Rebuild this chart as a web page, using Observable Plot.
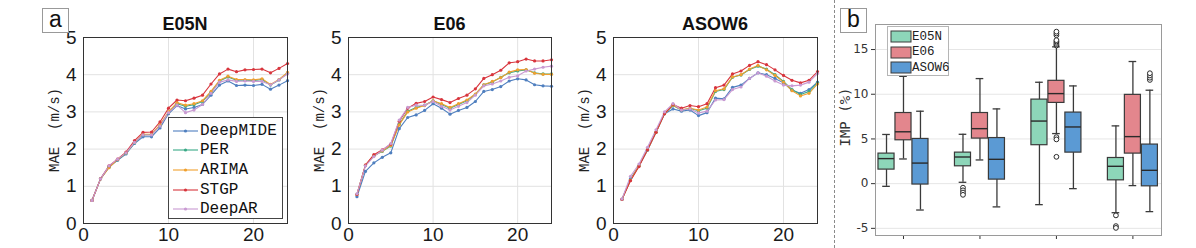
<!DOCTYPE html>
<html>
<head>
<meta charset="utf-8">
<script src="https://cdn.jsdelivr.net/npm/d3@7"></script>
<script src="https://cdn.jsdelivr.net/npm/@observablehq/plot@0.6"></script>
<style>
  html, body { margin: 0; padding: 0; background: #fff; }
  #root { position: relative; width: 1196px; height: 248px; overflow: hidden; background: #fff; }
  #root > * { position: absolute; }
  .ylab { width: 160px; height: 20px; line-height: 20px; text-align: center; transform: rotate(-90deg); white-space: pre; color: #222; }
  .title { text-align: center; font: bold 18px "Liberation Sans", Arial, sans-serif; color: #111; }
  .panel { border: 1px solid #999; background: #fff; text-align: center; font: 23px "Liberation Sans", Arial, sans-serif; color: #111; box-sizing: border-box; }
  .lrow { display: flex; align-items: center; white-space: pre; }
</style>
</head>
<body>
<div id="root"></div>
<script>
// ---------- data ----------
const steps = d3.range(1, 25);
const models = ["DeepMIDE", "PER", "ARIMA", "STGP", "DeepAR"];
const modelColors = ["#4f7fbf", "#3aa987", "#f0a02f", "#d8353d", "#c99ad2"];
const stations = ["E05N", "E06", "ASOW6"];

// MAE (m/s), forecast steps 1..24
const e05n_DeepMIDE = [0.62,1.2,1.53,1.7,1.87,2.15,2.33,2.33,2.57,2.95,3.17,3.08,3.12,3.2,3.45,3.72,3.83,3.71,3.72,3.71,3.74,3.61,3.72,3.84];
const e05n_PER      = [0.62,1.2,1.51,1.71,1.89,2.17,2.38,2.39,2.63,2.98,3.22,3.15,3.19,3.28,3.53,3.83,3.94,3.85,3.85,3.84,3.87,3.72,3.86,4.04];
const e05n_ARIMA    = [0.62,1.2,1.5,1.72,1.9,2.18,2.4,2.4,2.65,3.0,3.25,3.18,3.22,3.3,3.55,3.85,3.96,3.87,3.87,3.86,3.89,3.74,3.87,4.06];
const e05n_STGP     = [0.62,1.2,1.55,1.73,1.92,2.23,2.45,2.46,2.73,3.1,3.32,3.3,3.37,3.45,3.75,4.02,4.15,4.08,4.13,4.14,4.15,4.05,4.17,4.3];
const e05n_DeepAR   = [0.62,1.2,1.55,1.73,1.9,2.18,2.38,2.38,2.62,2.98,3.18,2.98,3.05,3.2,3.5,3.8,3.86,3.82,3.83,3.82,3.82,3.73,3.86,4.02];

const e06_DeepMIDE = [0.72,1.4,1.63,1.78,1.9,2.55,2.85,2.92,3.04,3.22,3.1,2.94,3.04,3.12,3.28,3.55,3.6,3.68,3.83,3.89,3.86,3.73,3.7,3.69];
const e06_PER      = [0.78,1.56,1.82,1.94,2.08,2.67,3.02,3.12,3.18,3.3,3.2,3.1,3.2,3.3,3.47,3.73,3.8,3.93,4.05,4.1,4.13,4.05,4.02,4.02];
const e06_ARIMA    = [0.78,1.57,1.83,1.95,2.1,2.65,3.0,3.1,3.17,3.3,3.22,3.12,3.22,3.32,3.48,3.73,3.82,3.92,4.07,4.13,4.14,4.04,4.01,4.01];
const e06_STGP     = [0.78,1.57,1.85,1.98,2.13,2.75,3.1,3.23,3.28,3.4,3.33,3.25,3.36,3.45,3.62,3.9,4.0,4.12,4.32,4.35,4.42,4.37,4.37,4.4];
const e06_DeepAR   = [0.8,1.55,1.8,1.97,2.15,2.78,3.12,3.18,3.18,3.28,3.15,3.05,3.15,3.25,3.45,3.7,3.75,3.83,3.93,3.97,4.1,4.15,4.2,4.23];

const asow6_DeepMIDE = [0.65,1.2,1.55,1.97,2.45,2.95,3.08,3.02,3.05,2.9,2.98,3.37,3.35,3.66,3.72,3.9,4.05,4.0,3.9,3.78,3.58,3.5,3.6,3.8];
const asow6_PER      = [0.65,1.17,1.55,1.98,2.45,2.95,3.17,3.05,3.09,3.03,3.1,3.55,3.6,3.93,3.99,4.14,4.23,4.15,4.0,3.82,3.6,3.47,3.55,3.78];
const asow6_ARIMA    = [0.65,1.17,1.55,1.98,2.45,2.95,3.18,3.06,3.1,3.05,3.13,3.57,3.62,3.94,4.0,4.15,4.25,4.13,3.98,3.8,3.57,3.43,3.5,3.75];
const asow6_STGP     = [0.65,1.15,1.53,1.98,2.45,2.95,3.2,3.1,3.17,3.14,3.22,3.65,3.72,4.02,4.1,4.25,4.35,4.27,4.13,3.98,3.85,3.78,3.85,4.08];
const asow6_DeepAR   = [0.66,1.27,1.6,2.05,2.52,3.0,3.22,3.05,3.08,2.97,3.02,3.32,3.33,3.6,3.67,3.9,4.05,3.96,3.83,3.72,3.7,3.72,3.8,4.03];

const maeTicksX = [0, 10, 20];
const maeTicksY = [0, 1, 2, 3, 4, 5];

// IMP (%) box statistics per group: [whiskerLow, Q1, median, Q3, whiskerHigh]
const boxGroups = [1, 2, 3, 4];
const e05nStats  = [[-0.3,1.57,2.8,3.36,5.5], [0.15,1.94,2.98,3.47,5.52], [-2.35,4.3,7.0,9.4,11.34], [-3.25,0.37,1.94,2.87,6.46]];
const e06Stats   = [[2.76,4.85,5.8,7.9,12.0], [2.65,5.04,6.15,7.9,11.75], [5.6,9.03,10.07,11.5,15.3], [-0.22,3.36,5.26,9.93,13.66]];
const asow6Stats = [[-2.95,-0.1,2.3,5.0,8.1], [-2.6,0.45,2.72,5.1,8.36], [-0.56,3.47,6.34,7.95,10.93], [-3.13,-0.3,1.49,4.37,10.45]];
const e05nOutliers  = [[], [-0.45,-0.75,-1.0,-1.25], [], [-3.55,-4.75,-4.95]];
const e06Outliers   = [[], [], [15.45,15.6,15.75,15.9,16.05,16.6,16.8,17.0,5.2,4.95,3.0], []];
const asow6Outliers = [[], [], [], [11.6,11.85,12.1,12.35]];
const impTicks = [-5, 0, 5, 10, 15];
const boxColors = ["#8dd6b9", "#e3868d", "#5b9ad4"];

// ---------- helpers ----------
const root = document.getElementById("root");
function place(el, left, top) { el.style.left = left + "px"; el.style.top = top + "px"; root.appendChild(el); return el; }
function div(cls, html, css) { const d = document.createElement("div"); if (cls) d.className = cls; d.innerHTML = html; Object.assign(d.style, css || {}); return d; }

const series = {
  E05N: [e05n_DeepMIDE, e05n_PER, e05n_ARIMA, e05n_STGP, e05n_DeepAR],
  E06: [e06_DeepMIDE, e06_PER, e06_ARIMA, e06_STGP, e06_DeepAR],
  ASOW6: [asow6_DeepMIDE, asow6_PER, asow6_ARIMA, asow6_STGP, asow6_DeepAR]
};

function linePlot(station, svgLeft, frameLeft, frameRight) {
  const rows = [];
  series[station].forEach((arr, mi) => arr.forEach((v, i) => rows.push({step: steps[i], mae: v, model: models[mi]})));
  const width = frameRight - svgLeft + 14;
  const chart = Plot.plot({
    width, height: 248,
    marginLeft: frameLeft - svgLeft, marginRight: width - (frameRight - svgLeft), marginTop: 37, marginBottom: 25,
    style: {fontFamily: "'Liberation Sans', Arial, sans-serif", fontSize: "19px", color: "#1a1a1a", background: "transparent", overflow: "visible"},
    x: {domain: [0, 24], ticks: maeTicksX, tickFormat: d => String(d), tickSize: 0, tickPadding: 4, label: null},
    y: {domain: [0, 5], ticks: maeTicksY, tickFormat: d => String(d), tickSize: 0, tickPadding: 7, label: null},
    color: {domain: models, range: modelColors},
    marks: [
      Plot.ruleY(maeTicksY.slice(1, -1), {stroke: "#e2e2e2", strokeWidth: 1}),
      Plot.ruleX(maeTicksX.slice(1), {stroke: "#e2e2e2", strokeWidth: 1}),
      Plot.line(rows, {x: "step", y: "mae", z: "model", stroke: "model", strokeWidth: 1.1}),
      Plot.dot(rows, {x: "step", y: "mae", fill: "model", r: 1.6}),
      Plot.frame({stroke: "#333", strokeWidth: 1})
    ]
  });
  place(chart, svgLeft, 0);
  const cx = (frameLeft + frameRight) / 2;
  place(div("title", station, {width: "200px", lineHeight: "20px"}), cx - 100, 14);
  place(div("ylab", "MAE  (m/s)", {font: "14px 'Liberation Mono', 'Courier New', monospace"}), frameLeft - 26 - 80, 130 - 10);
}

linePlot("E05N", 0, 83, 287);
linePlot("E06", 300, 348, 551);
linePlot("ASOW6", 570, 613, 817);

// legend for line panels
const leg = div("", "", {width: "115px", height: "102px", border: "1px solid #444", background: "#fff", boxSizing: "border-box", paddingTop: "3px"});
models.forEach((m, i) => {
  const r = div("lrow", "", {height: "19.6px", font: "16px 'Liberation Mono', 'Courier New', monospace", color: "#111"});
  r.innerHTML = `<svg width="31" height="12" style="flex:none"><line x1="4" x2="29" y1="6" y2="6" stroke="${modelColors[i]}" stroke-width="1.1"/><circle cx="16.5" cy="6" r="1.6" fill="${modelColors[i]}"/></svg><span>${m}</span>`;
  leg.appendChild(r);
});
place(leg, 168, 117);

// panel labels and separator
place(div("panel", "a", {width: "27px", height: "25px", lineHeight: "21px"}), 42, 8);
place(div("panel", "b", {width: "27px", height: "25px", lineHeight: "21px"}), 840, 8);
place(div("", "", {width: "0px", height: "248px", borderLeft: "1px dashed #8a8a8a"}), 834, 0);

// ---------- box plot ----------
const offsets = [-0.222, 0, 0.222];
const halfW = 0.105, capW = 0.05;
const statsAll = [e05nStats, e06Stats, asow6Stats];
const outAll = [e05nOutliers, e06Outliers, asow6Outliers];
const boxes = [], outs = [];
boxGroups.forEach((g, gi) => stations.forEach((s, si) => {
  const [lo, q1, med, q3, hi] = statsAll[si][gi];
  boxes.push({station: s, x: g + offsets[si], lo, q1, med, q3, hi});
  outAll[si][gi].forEach(v => outs.push({station: s, x: g + offsets[si], v}));
}));

const boxChart = Plot.plot({
  width: 366, height: 248,
  marginLeft: 45, marginRight: 35, marginTop: 24, marginBottom: 13,
  style: {fontFamily: "'DejaVu Sans', sans-serif", fontSize: "12px", color: "#333", background: "transparent", overflow: "visible"},
  x: {domain: [0.634, 4.374], ticks: boxGroups, tickFormat: () => "", tickSize: 4, label: null},
  y: {domain: [-5.8, 17.8], ticks: impTicks, tickFormat: d => String(d), tickSize: 4, tickPadding: 3, label: null},
  color: {domain: stations, range: boxColors},
  marks: [
    Plot.ruleY(impTicks, {stroke: "#e6e6e6", strokeWidth: 1}),
    Plot.ruleX(boxes, {x: "x", y1: "lo", y2: "q1", stroke: "#3a3a3a", strokeWidth: 1.3}),
    Plot.ruleX(boxes, {x: "x", y1: "q3", y2: "hi", stroke: "#3a3a3a", strokeWidth: 1.3}),
    Plot.ruleY(boxes, {y: "lo", x1: d => d.x - capW, x2: d => d.x + capW, stroke: "#3a3a3a", strokeWidth: 1.3}),
    Plot.ruleY(boxes, {y: "hi", x1: d => d.x - capW, x2: d => d.x + capW, stroke: "#3a3a3a", strokeWidth: 1.3}),
    Plot.rect(boxes, {x1: d => d.x - halfW, x2: d => d.x + halfW, y1: "q1", y2: "q3", fill: "station", stroke: "#3a3a3a", strokeWidth: 1.2}),
    Plot.ruleY(boxes, {y: "med", x1: d => d.x - halfW, x2: d => d.x + halfW, stroke: "#2a2a2a", strokeWidth: 1.4}),
    Plot.dot(outs, {x: "x", y: "v", r: 2.4, fill: "#fff", stroke: "#2a2a2a", strokeWidth: 1}),
    Plot.frame({stroke: "#9a9a9a", strokeWidth: 1})
  ]
});
place(boxChart, 830, 0);
place(div("ylab", "IMP (%)", {font: "14px 'DejaVu Sans Mono', monospace", color: "#333"}), 847 - 80, 117 - 10);

// legend for box panel
const bleg = div("", "", {width: "62px", height: "50px", border: "1px solid #b5b5b5", background: "rgba(255,255,255,0.9)", boxSizing: "border-box", paddingTop: "2px"});
stations.forEach((s, i) => {
  const r = div("lrow", "", {height: "15.5px", font: "12.5px 'Liberation Mono', 'Courier New', monospace", color: "#222"});
  r.innerHTML = `<svg width="24" height="13" style="flex:none"><rect x="3" y="1" width="20" height="11" fill="${boxColors[i]}" stroke="#3a3a3a" stroke-width="1"/></svg><span>${s}</span>`;
  bleg.appendChild(r);
});
place(bleg, 887, 26);
</script>
</body>
</html>
